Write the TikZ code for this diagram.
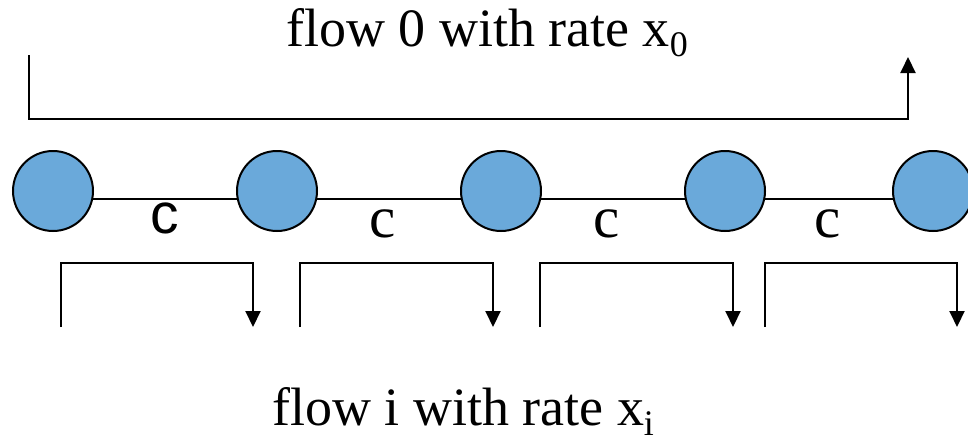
\documentclass[tikz,border=0pt]{standalone}
\usepackage{fontspec}
\setmainfont{Liberation Serif}
\newfontfamily\arialfont{Liberation Sans}
\usetikzlibrary{arrows.meta}
\definecolor{nodeblue}{RGB}{106,169,218}
\tikzstyle{router} = [circle, draw, line width=2pt, fill=nodeblue, minimum size=80pt, inner sep=0pt]
\tikzstyle{link} = [line width=1.6pt]
\tikzstyle{flow} = [line width=2pt, -{Triangle[width=15pt,length=16pt]}]
\tikzstyle{cost} = [font=\fontsize{59}{60}\selectfont]
\def\sub#1{\lower10pt\hbox{\fontsize{36}{40}\selectfont #1}}

\begin{document}
\begin{tikzpicture}[x=1pt, y=-1pt, node distance=224pt]
\useasboundingbox (0,0) rectangle (968,445);
\node (r1) [router] at (53,191) {};
\node (r2) [router, right of=r1] {};
\node (r3) [router, right of=r2] {};
\node (r4) [router, right of=r3] {};
\node (r5) [router, right of=r4, xshift=-16pt] {};

\draw [link] (r1.-11) -- (r2.191);
\draw [link] (r2.-11) -- (r3.191);
\draw [link] (r3.-11) -- (r4.191);
\draw [link] (r4.-11) -- (r5.191);

\node (c1) at (165,218) {\fontsize{57}{60}\arialfont c};
\node (c2) [cost] at (383,224) {c};
\node (c3) [cost] at (607,224) {c};
\node (c4) [cost] at (828,224) {c};

\node (flowzero) at (487,33) {\fontsize{54}{60}\selectfont flow 0 with rate x\sub{0}};
\coordinate (f0s) at (29,55);
\coordinate (f0e) at (908,57);
\draw [flow] (f0s) -- ++(0,64) -| (f0e);

\coordinate (f1s) at (61,327);
\coordinate (f1e) at (253,327);
\coordinate (f2s) at (300,327);
\coordinate (f2e) at (493,327);
\coordinate (f3s) at (540,327);
\coordinate (f3e) at (733,327);
\coordinate (f4s) at (765,327);
\coordinate (f4e) at (957,327);
\draw [flow] (f1s) -- ++(0,-64) -| (f1e);
\draw [flow] (f2s) -- ++(0,-64) -| (f2e);
\draw [flow] (f3s) -- ++(0,-64) -| (f3e);
\draw [flow] (f4s) -- ++(0,-64) -| (f4e);

\node (flowi) at (463,411) {\fontsize{54}{60}\selectfont flow i with rate x\sub{i}};
\end{tikzpicture}
\end{document}
